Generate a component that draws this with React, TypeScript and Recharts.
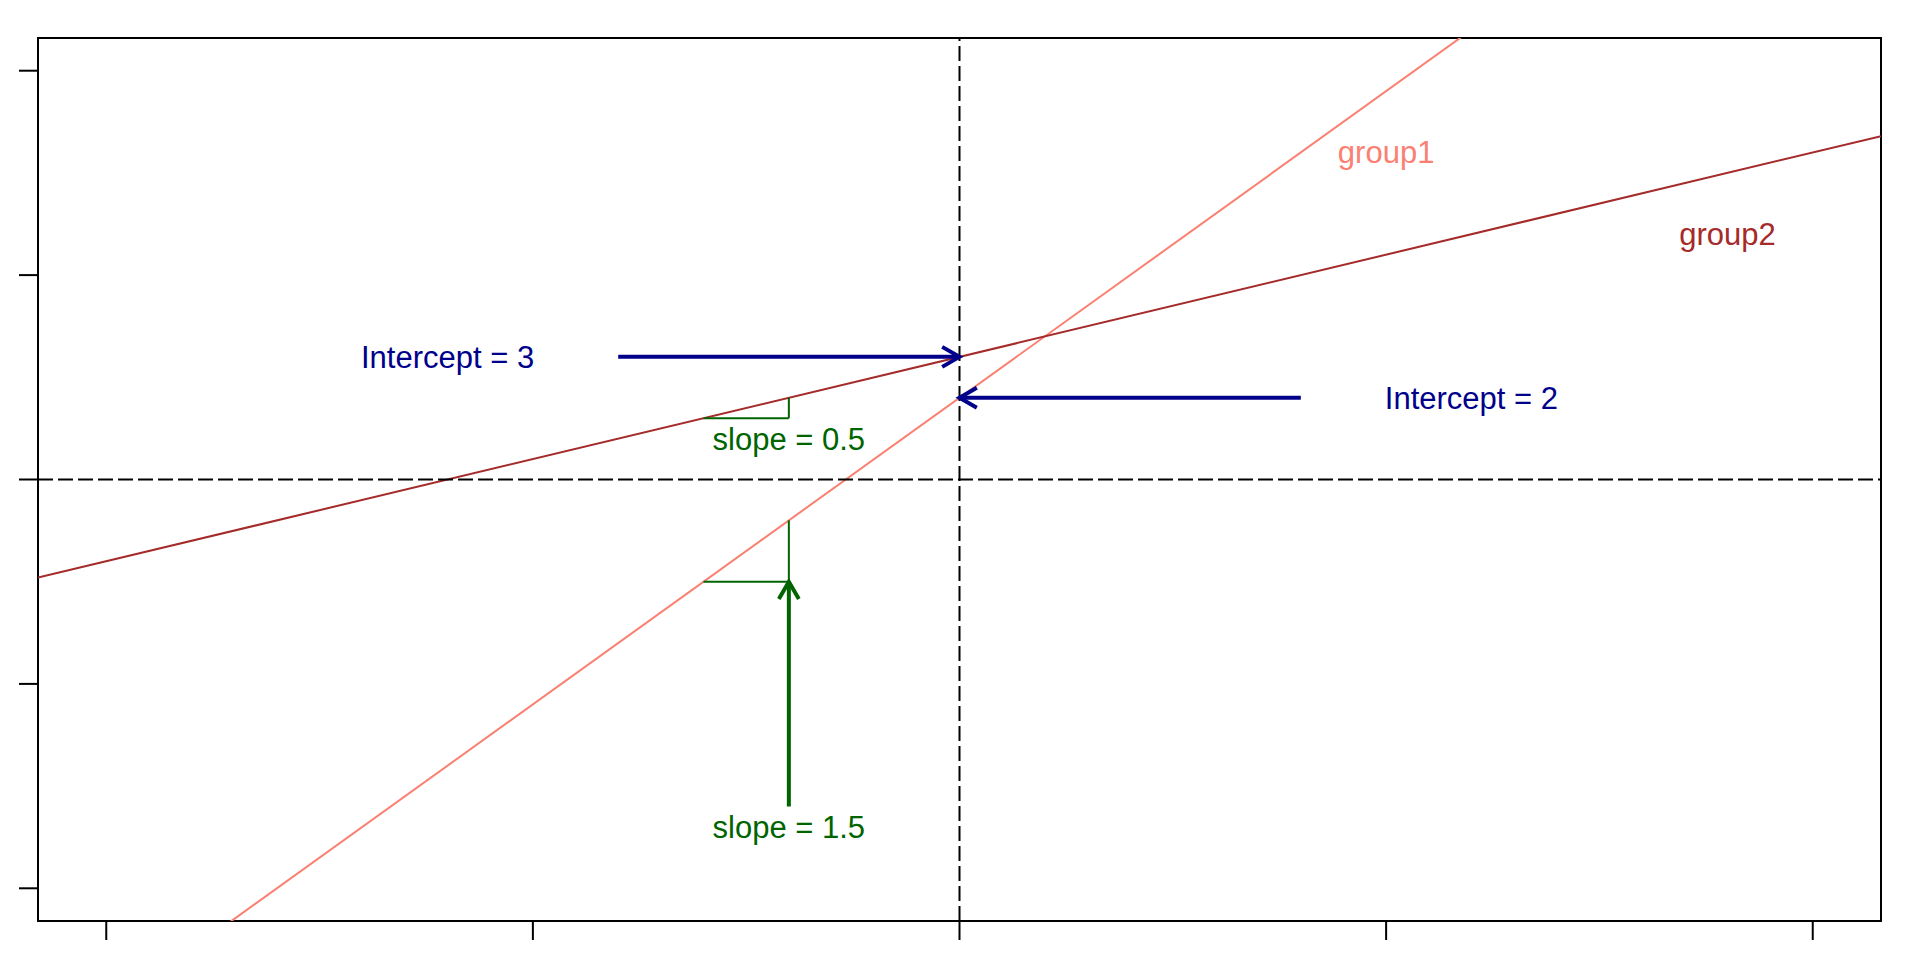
import {
  ComposedChart,
  Line,
  ReferenceArea,
  ReferenceDot,
  ReferenceLine,
  XAxis,
  YAxis
} from "recharts";

// axes (no tick labels in the original, only tick marks)
const axisLimits = [-10.8, 10.8];
const xTicks = [-10, -5, 0, 5, 10];
const yTicks = [-10, -5, 0, 5, 10];

// the two regression lines, end points at the plot edges
const group1Line = [
  { x: -10.8, y: -14.2 },
  { x: 10.8, y: 18.2 }
];
const group2Line = [
  { x: -10.8, y: -2.4 },
  { x: 10.8, y: 8.4 }
];

const groupLabels = [
  { text: "group1", x: 5, y: 8 },
  { text: "group2", x: 9, y: 6 }
];

const interceptArrows = [
  [{ x: -4, y: 3 }, { x: 0, y: 3 }],
  [{ x: 4, y: 2 }, { x: 0, y: 2 }]
];
const interceptLabels = [
  { text: "Intercept = 3", x: -6, y: 3 },
  { text: "Intercept = 2", x: 6, y: 2 }
];

// run / rise steps on each line
const slopeSteps = [
  [{ x: -3, y: 1.5 }, { x: -2, y: 1.5 }, { x: -2, y: 2 }],
  [{ x: -3, y: -2.5 }, { x: -2, y: -2.5 }, { x: -2, y: -1 }]
];
const slopeArrow = [{ x: -2, y: -8 }, { x: -2, y: -2.5 }];
const slopeLabels = [
  { text: "slope = 0.5", x: -2, y: 1 },
  { text: "slope = 1.5", x: -2, y: -8.5 }
];

const SALMON = "#FA8072";
const BROWN = "#A52A2A";
const BLUE = "#00008B";
const GREEN = "#006400";
const FONT = '"Liberation Sans", Arial, sans-serif';

// tick marks only, no labels
const noLabel = () => <g />;

function makeArrow(color: string) {
  return (props: any) => {
    const { x1, y1, x2, y2 } = props;
    const ang = Math.atan2(y2 - y1, x2 - x1);
    const len = 20;
    const spread = Math.PI / 6;
    const ax = x2 - len * Math.cos(ang - spread);
    const ay = y2 - len * Math.sin(ang - spread);
    const bx = x2 - len * Math.cos(ang + spread);
    const by = y2 - len * Math.sin(ang + spread);
    return (
      <g>
        <line x1={x1} y1={y1} x2={x2} y2={y2} stroke={color} strokeWidth={4} />
        <polyline points={`${ax},${ay} ${x2},${y2} ${bx},${by}`} fill="none" stroke={color} strokeWidth={4} />
      </g>
    );
  };
}

function makeText(text: string, color: string) {
  return (props: any) => (
    <text
      x={props.cx}
      y={props.cy + 11}
      textAnchor="middle"
      fill={color}
      fontSize={31}
      fontFamily={FONT}
    >
      {text}
    </text>
  );
}

export default function App() {
  const lim = axisLimits;
  return (
    <div style={{ position: "fixed", left: 0, top: 0, background: "#fff" }}>
      <ComposedChart width={1920} height={960} margin={{ top: 38, right: 39, bottom: 19, left: 19 }}>
        <XAxis
          type="number"
          dataKey="x"
          domain={lim}
          allowDataOverflow
          ticks={xTicks}
          interval={0}
          tick={noLabel}
          tickSize={19}
          height={20}
          axisLine={false}
          tickLine={{ stroke: "#000", strokeWidth: 2 }}
        />
        <YAxis
          type="number"
          dataKey="y"
          domain={lim}
          allowDataOverflow
          ticks={yTicks}
          interval={0}
          tick={noLabel}
          tickSize={19}
          width={19}
          axisLine={false}
          tickLine={{ stroke: "#000", strokeWidth: 2 }}
        />
        <ReferenceArea
          x1={lim[0]}
          x2={lim[1]}
          y1={lim[0]}
          y2={lim[1]}
          fill="none"
          fillOpacity={0}
          stroke="#000"
          strokeWidth={2}
          ifOverflow="visible"
        />
        <Line data={group1Line} dataKey="y" stroke={SALMON} strokeWidth={2} dot={false} isAnimationActive={false} />
        <Line data={group2Line} dataKey="y" stroke={BROWN} strokeWidth={2} dot={false} isAnimationActive={false} />
        <ReferenceLine x={0} stroke="#000" strokeWidth={2} strokeDasharray="15 5" />
        <ReferenceLine y={0} stroke="#000" strokeWidth={2} strokeDasharray="15 5" />

        {slopeSteps.map((s, i) => (
          <ReferenceLine key={`run${i}`} segment={[s[0], s[1]]} stroke={GREEN} strokeWidth={2} />
        ))}
        {slopeSteps.map((s, i) => (
          <ReferenceLine key={`rise${i}`} segment={[s[1], s[2]]} stroke={GREEN} strokeWidth={2} />
        ))}

        {interceptArrows.map((seg, i) => (
          <ReferenceLine key={`ia${i}`} segment={seg} shape={makeArrow(BLUE)} />
        ))}
        <ReferenceLine segment={slopeArrow} shape={makeArrow(GREEN)} />

        {groupLabels.map((l, i) => (
          <ReferenceDot key={l.text} x={l.x} y={l.y} r={0} shape={makeText(l.text, i === 0 ? SALMON : BROWN)} />
        ))}
        {interceptLabels.map((l) => (
          <ReferenceDot key={l.text} x={l.x} y={l.y} r={0} shape={makeText(l.text, BLUE)} />
        ))}
        {slopeLabels.map((l) => (
          <ReferenceDot key={l.text} x={l.x} y={l.y} r={0} shape={makeText(l.text, GREEN)} />
        ))}
      </ComposedChart>
    </div>
  );
}
